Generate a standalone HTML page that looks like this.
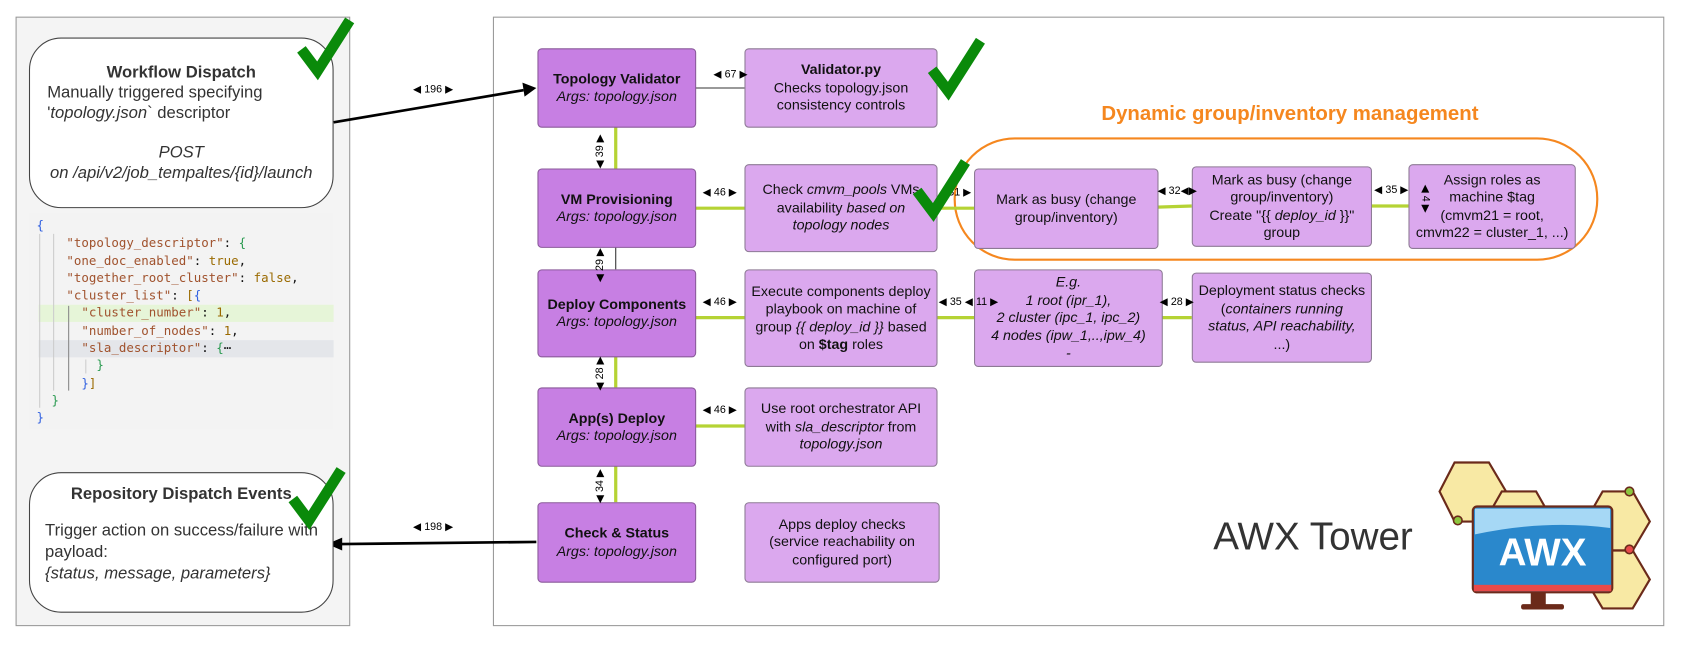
<!DOCTYPE html>
<html><head><meta charset="utf-8"><style>
html,body{margin:0;padding:0;width:1682px;height:646px;overflow:hidden;background:#fff}
#w{position:absolute;left:0;top:0;width:1568px;height:602px;transform:scale(1.07270,1.0731);transform-origin:0 0;font-family:"Liberation Sans",sans-serif;color:#111}
.a{position:absolute;box-sizing:border-box;display:flex;align-items:center;justify-content:center;text-align:center;font-size:13.3px;line-height:16.5px}
.d{background:#c77fe3;border:1px solid #8a5a9a;border-radius:4px}
.l{background:#dba8ee;border:1px solid #8d7a95;border-radius:4px}
.r{background:#fff;border:1px solid #444;border-radius:30px;color:#333;font-size:15.5px;line-height:19px}
.lb{position:absolute;font-size:10px;line-height:10px;color:#000;white-space:nowrap}
pre{margin:0;font-family:"DejaVu Sans Mono",monospace;font-size:11.6px;line-height:16.3px}
.k{color:#a0522d}.n{color:#9a6a00}.b{color:#3060e0}.g{color:#2a9a50}
</style></head><body><div id="w">
<svg width="1568" height="602" style="position:absolute;left:0;top:0">
<rect x="15" y="16" width="311" height="567" fill="#f4f4f4" stroke="#999" stroke-width="1"/>
<rect x="460" y="16" width="1091" height="567" fill="#fff" stroke="#999" stroke-width="1"/>
<rect x="27" y="198" width="284" height="202" fill="#f3f3f3"/>
<rect x="36" y="284" width="275" height="16" fill="#e6f5d8"/>
<rect x="36" y="317" width="275" height="16" fill="#e4e6ea"/>
<g stroke="#ccc" stroke-width="1"><line x1="37" y1="218" x2="37" y2="380"/><line x1="50" y1="218" x2="50" y2="364"/><line x1="64" y1="285" x2="64" y2="364" stroke="#888"/><line x1="80" y1="335" x2="80" y2="348"/></g>
<rect x="890" y="129" width="599" height="113" rx="56" fill="none" stroke="#f5871f" stroke-width="2"/>
<g stroke="#b5d334" stroke-width="3" fill="none">
<line x1="574" y1="118" x2="574" y2="157"/><line x1="574" y1="332" x2="574" y2="361"/><line x1="574" y1="434" x2="574" y2="468"/>
<line x1="648" y1="194" x2="694" y2="194"/><line x1="648" y1="296" x2="694" y2="296"/><line x1="648" y1="397" x2="694" y2="397"/>
<line x1="874" y1="194" x2="908" y2="194"/><line x1="1079" y1="193" x2="1111" y2="192"/><line x1="1278" y1="192" x2="1313" y2="192"/>
<line x1="874" y1="296" x2="918" y2="296"/><line x1="1083" y1="296" x2="1111" y2="296"/>
</g>
<g stroke="#333" stroke-width="1"><line x1="648" y1="82" x2="694" y2="82"/><line x1="574" y1="230" x2="574" y2="251"/></g>
<g stroke="#000" stroke-width="2.5"><line x1="311" y1="114" x2="488" y2="84"/><line x1="500" y1="505" x2="318" y2="507"/></g>
<polygon points="500,82 487,77 489,90" fill="#000"/>
<polygon points="305,507 319,501 319,513" fill="#000"/>
<g stroke="#6b2a1a" stroke-width="2" fill="#f8e9a4">
<polygon points="1356,431 1388,431 1404,458 1388,486 1356,486 1342,458"/>
<polygon points="1400,458 1432,458 1448,486 1432,513 1400,513 1384,486"/>
<polygon points="1494,458 1522,458 1538,486 1522,513 1494,513 1478,486"/>
<polygon points="1494,513 1522,513 1538,540 1522,567 1494,567 1478,540"/>
</g>
<rect x="1427" y="550" width="14" height="14" fill="#6b2a1a"/>
<rect x="1418" y="563" width="40" height="5" rx="2" fill="#6b2a1a"/>
<rect x="1373" y="472" width="130" height="80" rx="4" fill="#2a88cc" stroke="#6b2a1a" stroke-width="2"/>
<path d="M1375,474 L1501,474 L1501,492 Q1440,484 1375,498 Z" fill="#a6d8f5"/>
<rect x="1374" y="545" width="128" height="6" fill="#e84a4a"/>
<text x="1438" y="527" font-family="Liberation Sans" font-weight="bold" font-size="36" fill="#fff" text-anchor="middle">AWX</text>
<circle cx="1359" cy="485" r="4" fill="#8cc63f" stroke="#6b2a1a" stroke-width="1.5"/>
<circle cx="1519" cy="458" r="4" fill="#8cc63f" stroke="#6b2a1a" stroke-width="1.5"/>
<circle cx="1519" cy="512" r="4" fill="#e84a4a" stroke="#6b2a1a" stroke-width="1.5"/>
</svg>

<div class="a r" style="left:27px;top:35px;width:284px;height:159px;flex-direction:column;align-items:flex-start;padding:0 16px;text-align:left">
<div style="align-self:center;font-weight:bold">Workflow Dispatch</div>
<div>Manually triggered specifying<br>'<i>topology.json</i>` descriptor</div>
<div style="align-self:center;text-align:center;margin-top:18px;font-style:italic;white-space:nowrap">POST<br>on /api/v2/job_tempaltes/{id}/launch</div></div>

<div style="position:absolute;left:34px;top:202px"><pre><span class="b">{</span>
    <span class="k">"topology_descriptor"</span>: <span class="g">{</span>
    <span class="k">"one_doc_enabled"</span>: <span class="n">true</span>,
    <span class="k">"together_root_cluster"</span>: <span class="n">false</span>,
    <span class="k">"cluster_list"</span>: <span class="n">[</span><span class="b">{</span>
      <span class="k">"cluster_number"</span>: <span class="n">1</span>,
      <span class="k">"number_of_nodes"</span>: <span class="n">1</span>,
      <span class="k">"sla_descriptor"</span>: <span class="g">{</span>⋯
        <span class="g">}</span>
      <span class="b">}</span><span class="n">]</span>
  <span class="g">}</span>
<span class="b">}</span></pre></div>

<div class="a r" style="left:27px;top:440px;width:284px;height:131px;flex-direction:column;align-items:flex-start;justify-content:flex-start;padding:10px 14px;text-align:left;line-height:20px">
<div style="align-self:center;font-weight:bold">Repository Dispatch Events</div>
<div style="margin-top:14px;white-space:nowrap">Trigger action on success/failure with<br>payload:<br><i>{status, message, parameters}</i></div></div>

<div class="a d" style="left:501px;top:45px;width:148px;height:74px"><div><b>Topology Validator</b><br><i>Args: topology.json</i></div></div>
<div class="a d" style="left:501px;top:157px;width:148px;height:74px"><div><b>VM Provisioning</b><br><i>Args: topology.json</i></div></div>
<div class="a d" style="left:501px;top:251px;width:148px;height:82px"><div><b>Deploy Components</b><br><i>Args: topology.json</i></div></div>
<div class="a d" style="left:501px;top:361px;width:148px;height:74px"><div><b>App(s) Deploy</b><br><i>Args: topology.json</i></div></div>
<div class="a d" style="left:501px;top:468px;width:148px;height:75px"><div><b>Check &amp; Status</b><br><i>Args: topology.json</i></div></div>

<div class="a l" style="left:694px;top:45px;width:180px;height:74px"><div><b>Validator.py</b><br>Checks topology.json<br>consistency controls</div></div>
<div class="a l" style="left:694px;top:153px;width:180px;height:82px"><div>Check <i>cmvm_pools</i> VMs<br>availability <i>based on<br>topology nodes</i></div></div>
<div class="a l" style="left:694px;top:251px;width:180px;height:91px"><div>Execute components deploy<br>playbook on machine of<br>group <i>{{ deploy_id }}</i> based<br>on <b>$tag</b> roles</div></div>
<div class="a l" style="left:694px;top:361px;width:180px;height:74px"><div>Use root orchestrator API<br>with <i>sla_descriptor</i> from<br><i>topology.json</i></div></div>
<div class="a l" style="left:694px;top:468px;width:182px;height:75px"><div>Apps deploy checks<br>(service reachability on<br>configured port)</div></div>

<div class="a l" style="left:908px;top:157px;width:172px;height:75px"><div>Mark as busy (change<br>group/inventory)</div></div>
<div class="a l" style="left:1111px;top:155px;width:168px;height:75px"><div>Mark as busy (change<br>group/inventory)<br>Create "{{ <i>deploy_id</i> }}"<br>group</div></div>
<div class="a l" style="left:1313px;top:153px;width:156px;height:79px"><div>Assign roles as<br>machine $tag<br>(cmvm21 = root,<br>cmvm22 = cluster_1, ...)</div></div>
<div class="a l" style="left:908px;top:251px;width:176px;height:91px;font-style:italic"><div>E.g.<br>1 root (ipr_1),<br>2 cluster (ipc_1, ipc_2)<br>4 nodes (ipw_1,..,ipw_4)<br>-</div></div>
<div class="a l" style="left:1111px;top:254px;width:168px;height:84px"><div>Deployment status checks<br>(<i>containers running<br>status, API reachability,</i><br>...)</div></div>

<div style="position:absolute;left:890px;top:96px;width:625px;text-align:center;color:#f5871f;font-weight:bold;font-size:19px">Dynamic group/inventory management</div>
<div style="position:absolute;left:1131px;top:479px;font-size:36px;color:#333">AWX Tower</div>

<div class="lb" style="left:385px;top:79px">◀ 196 ▶</div>
<div class="lb" style="left:385px;top:487px">◀ 198 ▶</div>
<div class="lb" style="left:665px;top:65px">◀ 67 ▶</div>
<div class="lb" style="left:655px;top:175px">◀ 46 ▶</div>
<div class="lb" style="left:655px;top:277px">◀ 46 ▶</div>
<div class="lb" style="left:655px;top:378px">◀ 46 ▶</div>
<div class="lb" style="left:875px;top:277px">◀ 35 ◀ 11 ▶</div>
<div class="lb" style="left:1081px;top:277px">◀ 28 ▶</div>
<div class="lb" style="left:884px;top:175px">31 ▶</div>
<div class="lb" style="left:1079px;top:174px">◀ 32◀▶</div>
<div class="lb" style="left:1281px;top:173px">◀ 35 ▶</div>
<div class="lb" style="transform:rotate(-90deg);transform-origin:0 0;top:157px;left:555px">◀ 39 ▶</div>
<div class="lb" style="left:555px;top:263px;transform:rotate(-90deg);transform-origin:0 0">◀ 29 ▶</div>
<div class="lb" style="left:555px;top:364px;transform:rotate(-90deg);transform-origin:0 0">◀ 28 ▶</div>
<div class="lb" style="left:555px;top:469px;transform:rotate(-90deg);transform-origin:0 0">◀ 34 ▶</div>
<div class="lb" style="left:1333px;top:172px;transform:rotate(90deg);transform-origin:0 0">◀ 4 ▶</div>

<svg width="1568" height="602" style="position:absolute;left:0;top:0;pointer-events:none">
<g stroke="#0a8a0a" stroke-width="10" fill="none" stroke-linejoin="miter" stroke-linecap="butt">
<path d="M281,46 L296,66 L326,19"/>
<path d="M273,465 L288,485 L318,438"/>
<path d="M869,65 L884,85 L914,38"/>
<path d="M855,178 L870,198 L900,151"/>
</g>
</svg>
</div></body></html>
